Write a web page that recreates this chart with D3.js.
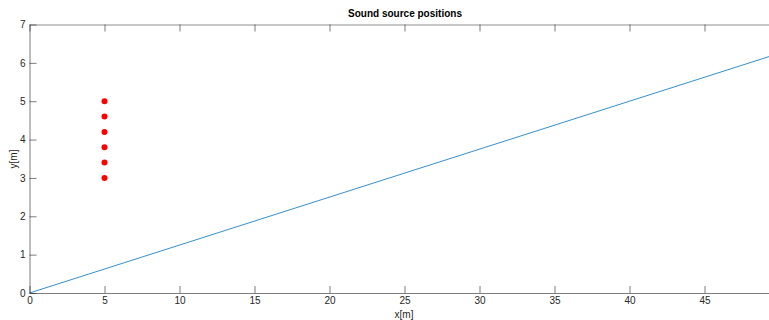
<!DOCTYPE html>
<html><head><meta charset="utf-8">
<script src="https://cdn.jsdelivr.net/npm/d3@7"></script>
<style>body{margin:0;background:#fff}svg{display:block;font-family:"Liberation Sans",Arial,sans-serif}</style>
</head><body><svg id="c" width="769" height="320"></svg>
<script>
const title = "Sound source positions";
const xTicks = [0,5,10,15,20,25,30,35,40,45];
const yTicks = [0,1,2,3,4,5,6,7];
const sourceX = [5,5,5,5,5,5];
const sourceY = [3,3.4,3.8,4.2,4.6,5.0];
const lineX = [0,50];
const lineY = [0,6.25];

(function(){
const svg = d3.select("#c");
const L = 29.5, T = 24.5, B = 293;
const x = d3.scaleLinear().domain([0,50]).range([L, L+750]);
const y = d3.scaleLinear().domain([0,7]).range([B, T]);
const axisCol = "#262626";

svg.append("path").datum(lineX.map((v,i)=>[v,lineY[i]]))
  .attr("d", d3.line().x(d=>x(d[0])).y(d=>y(d[1])))
  .attr("fill","none").attr("stroke","#0072bd").attr("stroke-width",0.8);

svg.selectAll("circle.s").data(sourceX.map((v,i)=>[v,sourceY[i]])).join("circle")
  .attr("cx",d=>x(d[0])).attr("cy",d=>y(d[1])).attr("r",3).attr("fill","#ff0000");

const gBottom = svg.append("g").attr("transform",`translate(0,${B})`)
  .call(d3.axisBottom(x).tickValues(xTicks).tickSize(-7).tickPadding(4).tickFormat(d3.format("d")).tickSizeOuter(0));
const gTop = svg.append("g").attr("transform",`translate(0,${T})`)
  .call(d3.axisTop(x).tickValues(xTicks).tickSize(-7).tickFormat("").tickSizeOuter(0));
const gLeft = svg.append("g").attr("transform",`translate(${L},0)`)
  .call(d3.axisLeft(y).tickValues(yTicks).tickSize(-7).tickPadding(4).tickFormat(d3.format("d")).tickSizeOuter(0));
[gBottom,gTop,gLeft].forEach(g=>{
  g.select(".domain").attr("stroke",axisCol).attr("stroke-opacity",0.6);
  g.selectAll(".tick line").attr("stroke",axisCol).attr("stroke-opacity",0.6);
  g.selectAll(".tick text").attr("fill",axisCol).attr("font-size",10).attr("font-family","Liberation Sans, Arial, sans-serif");
});
gTop.select(".domain").attr("stroke-opacity",0.35).attr("stroke-width",1.5);

svg.append("text").attr("x",405).attr("y",17).attr("text-anchor","middle")
  .attr("font-size",10).attr("font-weight","bold").attr("fill","#000").text(title);
svg.append("text").attr("x",404).attr("y",318).attr("text-anchor","middle")
  .attr("font-size",10).attr("fill",axisCol).text("x[m]");
svg.append("text").attr("transform","translate(17,159) rotate(-90)").attr("text-anchor","middle")
  .attr("font-size",10).attr("fill",axisCol).text("y[m]");
})();
</script></body></html>
